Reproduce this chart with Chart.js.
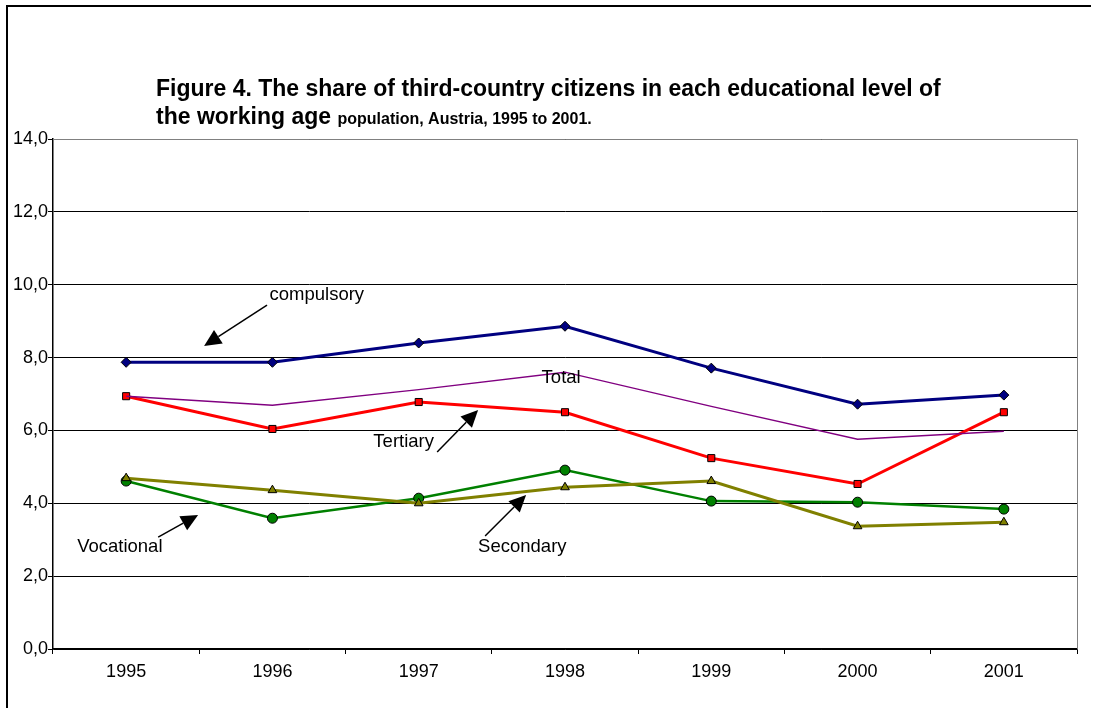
<!DOCTYPE html>
<html>
<head>
<meta charset="utf-8">
<script src="https://cdn.jsdelivr.net/npm/chart.js@4/dist/chart.umd.min.js"></script>
<style>
  html, body { margin: 0; padding: 0; background: #fff; }
  #wrap { width: 1099px; height: 708px; position: relative; }
</style>
</head>
<body>
<div id="wrap"><canvas id="chart" width="1099" height="708"></canvas></div>
<script>
// chart data
const years = ['1995', '1996', '1997', '1998', '1999', '2000', '2001'];
const compulsory = [7.87, 7.87, 8.40, 8.86, 7.71, 6.72, 6.97];
const total = [6.94, 6.69, 7.12, 7.60, 6.66, 5.76, 5.98];
const tertiary = [6.94, 6.04, 6.78, 6.50, 5.24, 4.53, 6.50];
const vocational = [4.61, 3.59, 4.14, 4.91, 4.06, 4.03, 3.84];
const secondary = [4.69, 4.36, 4.00, 4.44, 4.61, 3.37, 3.48];
const yTicks = [0, 2, 4, 6, 8, 10, 12, 14];

// labels + arrows placed in data units (category index, value)
const notes = [
  { text: 'compulsory', x: 0.98, y: 9.72, arrow: [0.963, 9.44, 0.533, 8.32] },
  { text: 'Total', x: 2.84, y: 7.44 },
  { text: 'Tertiary', x: 1.69, y: 5.68, arrow: [2.126, 5.41, 2.406, 6.56] },
  { text: 'Vocational', x: -0.335, y: 2.80, arrow: [0.219, 3.07, 0.492, 3.68] },
  { text: 'Secondary', x: 2.406, y: 2.80, arrow: [2.454, 3.10, 2.734, 4.23] }
];

const FONT = '"Liberation Sans", Arial, sans-serif';

const decorPlugin = {
  id: 'decor',
  beforeDraw(chart) {
    const ctx = chart.ctx;
    ctx.save();
    ctx.fillStyle = '#fff';
    ctx.fillRect(0, 0, chart.width, chart.height);
    // outer frame (cut off at right/bottom)
    ctx.strokeStyle = '#000';
    ctx.lineWidth = 2;
    ctx.beginPath();
    ctx.moveTo(7, chart.height + 2);
    ctx.lineTo(7, 6);
    ctx.lineTo(1091, 6);
    ctx.stroke();
    ctx.restore();
  },
  afterDraw(chart) {
    const ctx = chart.ctx;
    const a = chart.chartArea;
    const xs = chart.scales.x, ys = chart.scales.y;
    ctx.save();
    // grey plot border top/right
    ctx.strokeStyle = '#808080';
    ctx.lineWidth = 1;
    ctx.beginPath();
    ctx.moveTo(a.left, a.top + 0.5);
    ctx.lineTo(a.right + 0.5, a.top + 0.5);
    ctx.lineTo(a.right + 0.5, a.bottom);
    ctx.stroke();

    // title
    ctx.fillStyle = '#000';
    ctx.textBaseline = 'alphabetic';
    ctx.textAlign = 'left';
    ctx.font = 'bold 23px ' + FONT;
    ctx.fillText('Figure 4. The share of third-country citizens in each educational level of', 156, 96);
    const part1 = 'the working age ';
    ctx.fillText(part1, 156, 124);
    const w1 = ctx.measureText(part1).width;
    ctx.font = 'bold 16px ' + FONT;
    ctx.fillText('population, Austria, 1995 to 2001.', 156 + w1, 124);

    // annotations
    ctx.font = '18.5px ' + FONT;
    ctx.textBaseline = 'middle';
    notes.forEach(n => {
      ctx.fillStyle = '#000';
      ctx.fillText(n.text, xs.getPixelForValue(n.x), ys.getPixelForValue(n.y));
      if (n.arrow) {
        const x0 = xs.getPixelForValue(n.arrow[0]), y0 = ys.getPixelForValue(n.arrow[1]);
        const x1 = xs.getPixelForValue(n.arrow[2]), y1 = ys.getPixelForValue(n.arrow[3]);
        const ang = Math.atan2(y1 - y0, x1 - x0);
        const hl = 17, hw = 8;
        const bx = x1 - hl * Math.cos(ang), by = y1 - hl * Math.sin(ang);
        ctx.strokeStyle = '#000';
        ctx.lineWidth = 1.5;
        ctx.beginPath();
        ctx.moveTo(x0, y0);
        ctx.lineTo(bx, by);
        ctx.stroke();
        ctx.beginPath();
        ctx.moveTo(x1, y1);
        ctx.lineTo(bx + hw * Math.sin(ang), by - hw * Math.cos(ang));
        ctx.lineTo(bx - hw * Math.sin(ang), by + hw * Math.cos(ang));
        ctx.closePath();
        ctx.fillStyle = '#000';
        ctx.fill();
      }
    });
    ctx.restore();
  }
};

new Chart(document.getElementById('chart').getContext('2d'), {
  type: 'line',
  data: {
    labels: years,
    datasets: [
      {
        label: 'Total',
        data: total,
        borderColor: '#800080',
        borderWidth: 1.5,
        pointRadius: 0,
        tension: 0
      },
      {
        label: 'Secondary',
        data: secondary,
        borderColor: '#808000',
        backgroundColor: '#808000',
        borderWidth: 3,
        pointStyle: 'triangle',
        pointRadius: 5,
        pointBorderColor: '#000',
        pointBorderWidth: 1,
        tension: 0
      },
      {
        label: 'Vocational',
        data: vocational,
        borderColor: '#008000',
        backgroundColor: '#008000',
        borderWidth: 2.5,
        pointStyle: 'circle',
        pointRadius: 5,
        pointBorderColor: '#000',
        pointBorderWidth: 1,
        tension: 0
      },
      {
        label: 'Tertiary',
        data: tertiary,
        borderColor: '#ff0000',
        backgroundColor: '#ff0000',
        borderWidth: 3,
        pointStyle: 'rect',
        pointRadius: 5,
        pointBorderColor: '#000',
        pointBorderWidth: 1,
        tension: 0
      },
      {
        label: 'compulsory',
        data: compulsory,
        borderColor: '#000080',
        backgroundColor: '#000080',
        borderWidth: 3,
        pointStyle: 'rectRot',
        pointRadius: 5,
        pointBorderColor: '#000',
        pointBorderWidth: 1,
        tension: 0
      }
    ]
  },
  options: {
    responsive: false,
    animation: false,
    layout: { padding: { top: 139, left: 0, right: 22, bottom: 0 } },
    plugins: {
      legend: { display: false },
      tooltip: { enabled: false }
    },
    scales: {
      x: {
        offset: true,
        grid: {
          offset: true,
          drawOnChartArea: false,
          drawTicks: true,
          tickLength: 5,
          color: '#000'
        },
        border: { color: '#000', width: 1.5 },
        ticks: {
          color: '#000',
          font: { family: FONT, size: 18 },
          padding: 7,
          maxRotation: 0
        },
        afterFit(scale) { scale.height = 59; }
      },
      y: {
        min: 0,
        max: 14,
        afterBuildTicks(scale) { scale.ticks = yTicks.map(v => ({ value: v })); },
        grid: {
          color: '#000',
          lineWidth: 1,
          drawTicks: true,
          tickLength: 5,
          tickColor: '#000'
        },
        border: { color: '#000', width: 1.5 },
        ticks: {
          color: '#000',
          font: { family: FONT, size: 18 },
          padding: 0,
          callback: v => v.toFixed(1).replace('.', ',')
        },
        afterFit(scale) { scale.width = 53; }
      }
    }
  },
  plugins: [decorPlugin]
});
</script>
</body>
</html>
